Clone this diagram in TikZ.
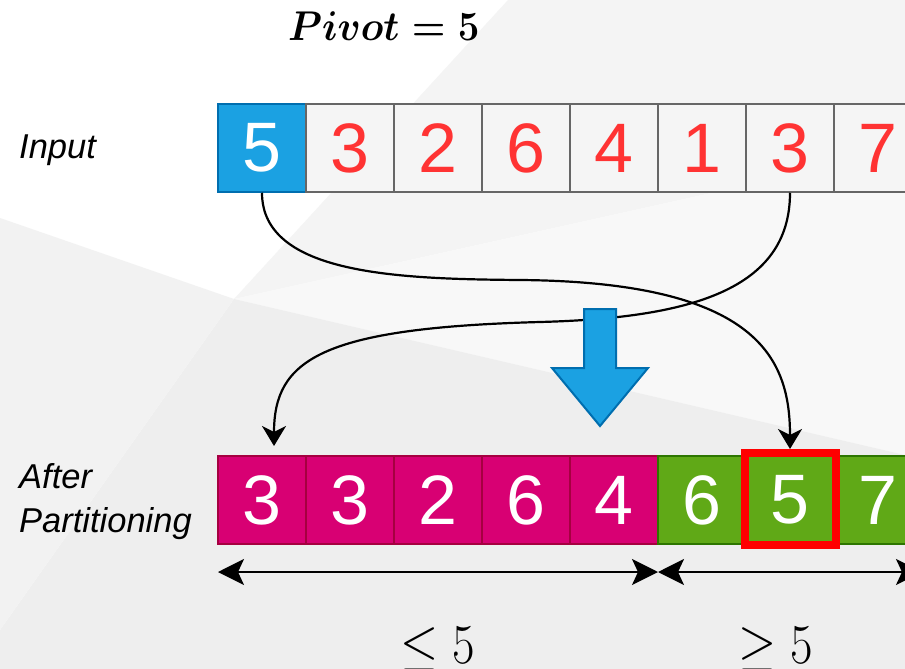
\RequirePackage{fix-cm}
\documentclass[tikz,border=0pt]{standalone}
\usepackage[no-math]{fontspec}
\usepackage{amsmath}
\usetikzlibrary{arrows.meta}
\newfontfamily\hv{Liberation Sans}
\definecolor{pvfill}{HTML}{1BA1E2} \definecolor{pvline}{HTML}{006EAF}
\definecolor{gyfill}{HTML}{F5F5F5} \definecolor{gyline}{HTML}{666666}
\definecolor{rdtext}{HTML}{FF3333}
\definecolor{pkfill}{HTML}{D80073} \definecolor{pkline}{HTML}{A50040}
\definecolor{gnfill}{HTML}{60A917} \definecolor{gnline}{HTML}{2D7600}
\definecolor{bgb}{HTML}{F2F2F2} \definecolor{bgd}{HTML}{F4F4F4}
\definecolor{bge}{HTML}{F8F8F8} \definecolor{bgf}{HTML}{EEEEEE}
\tikzset{cl/.style = {rectangle, minimum size=88pt, inner sep=0pt, line width=1.5pt, draw, font=\hv\fontsize{70}{70}\selectfont},
           pv/.style = {cl, fill=pvfill, draw=pvline, text=white},
           gy/.style = {cl, fill=gyfill, draw=gyline, text=rdtext},
           pk/.style = {cl, fill=pkfill, draw=pkline, text=white},
           gn/.style = {cl, fill=gnfill, draw=gnline, text=white},
           hl/.style = {rectangle, minimum width=91pt, minimum height=92pt, line width=8pt, draw=red},
           lb/.style = {anchor=base west, inner sep=0pt, font=\hv\itshape\fontsize{34.5}{44}\selectfont},
           mt/.style = {anchor=base, inner sep=0pt, font=\fontsize{49}{49}\selectfont},
           cv/.style = {line width=2.2pt, ->},
           da/.style = {line width=2pt, {Stealth[length=26pt,width=26pt,inset=6pt]}-{Stealth[length=26pt,width=26pt,inset=6pt]}}}

\begin{document}
\begin{tikzpicture}[x=1pt, y=-1pt, >={Stealth[length=20pt,width=24pt,inset=6pt]}]
    \useasboundingbox (0,0) rectangle (905,669);
    \clip (0,0) rectangle (905,669);
    \fill[white] (0,0) rectangle (905,669);
    \fill[bgd] (508,0) -- (905,0) -- (905,150) -- (234,299) -- cycle;
    \fill[bge] (234,299) -- (905,150) -- (905,455) -- cycle;
    \fill[bgf] (234,299) -- (905,455) -- (905,669) -- (0,669) -- (0,630) -- cycle;
    \fill[bgb] (0,218) -- (234,299) -- (0,630) -- cycle;
    \node[anchor=base west, inner sep=0pt, font=\fontsize{38.5}{38.5}\selectfont\boldmath] (pt) at (288,41) {\scalebox{1}[1.08]{$Pivot = 5$}};
    \node[lb] (ti) at (19,158) {Input};
    \node[lb] (ta) at (19,488) {After};
    \node[lb] (tp) at (19,532) {Partitioning};
    \node[pv] (a0) at (262,148) {5}; \node[gy] (a1) at (350,148) {3}; \node[gy] (a2) at (438,148) {2}; \node[gy] (a3) at (526,148) {6};
    \node[gy] (a4) at (614,148) {4}; \node[gy] (a5) at (702,148) {1}; \node[gy] (a6) at (790,148) {3}; \node[gy] (a7) at (878,148) {7};
    \node[pk] (b0) at (262,500) {3}; \node[pk] (b1) at (350,500) {3}; \node[pk] (b2) at (438,500) {2}; \node[pk] (b3) at (526,500) {6};
    \node[pk] (b4) at (614,500) {4}; \node[gn] (b5) at (702,500) {6}; \node[gn] (b6) at (790,500) {5}; \node[gn] (b7) at (878,500) {7};
    \node[hl] (h) at (790,499) {};
    \coordinate (e2) at (274,446);
    \draw[cv] (a0.south) .. controls (262,275) and (400,279) .. (520,280) .. controls (760,282) and (790,360) .. (h.north);
    \draw[cv] (a6.south) .. controls (790,290) and (690,318) .. (540,322) .. controls (320,328) and (274,360) .. (e2);
    \filldraw[fill=pvfill, draw=pvline, line width=2pt] (584,309) -- (616,309) -- (616,368) -- (648,368) -- (600,426) -- (552,368) -- (584,368) -- cycle;
    \coordinate (l0) at (218,572); \coordinate (l1) at (658,572); \coordinate (l2) at (922,572);
    \draw[da] (l0) -- (l1);
    \draw[da] (l1) -- (l2);
    \node[mt] (le) at (438,663) {\scalebox{1}[1.15]{$\leq 5$}};
    \node[mt] (ge) at (776,663) {\scalebox{1}[1.15]{$\geq 5$}};
\end{tikzpicture}
\end{document}
